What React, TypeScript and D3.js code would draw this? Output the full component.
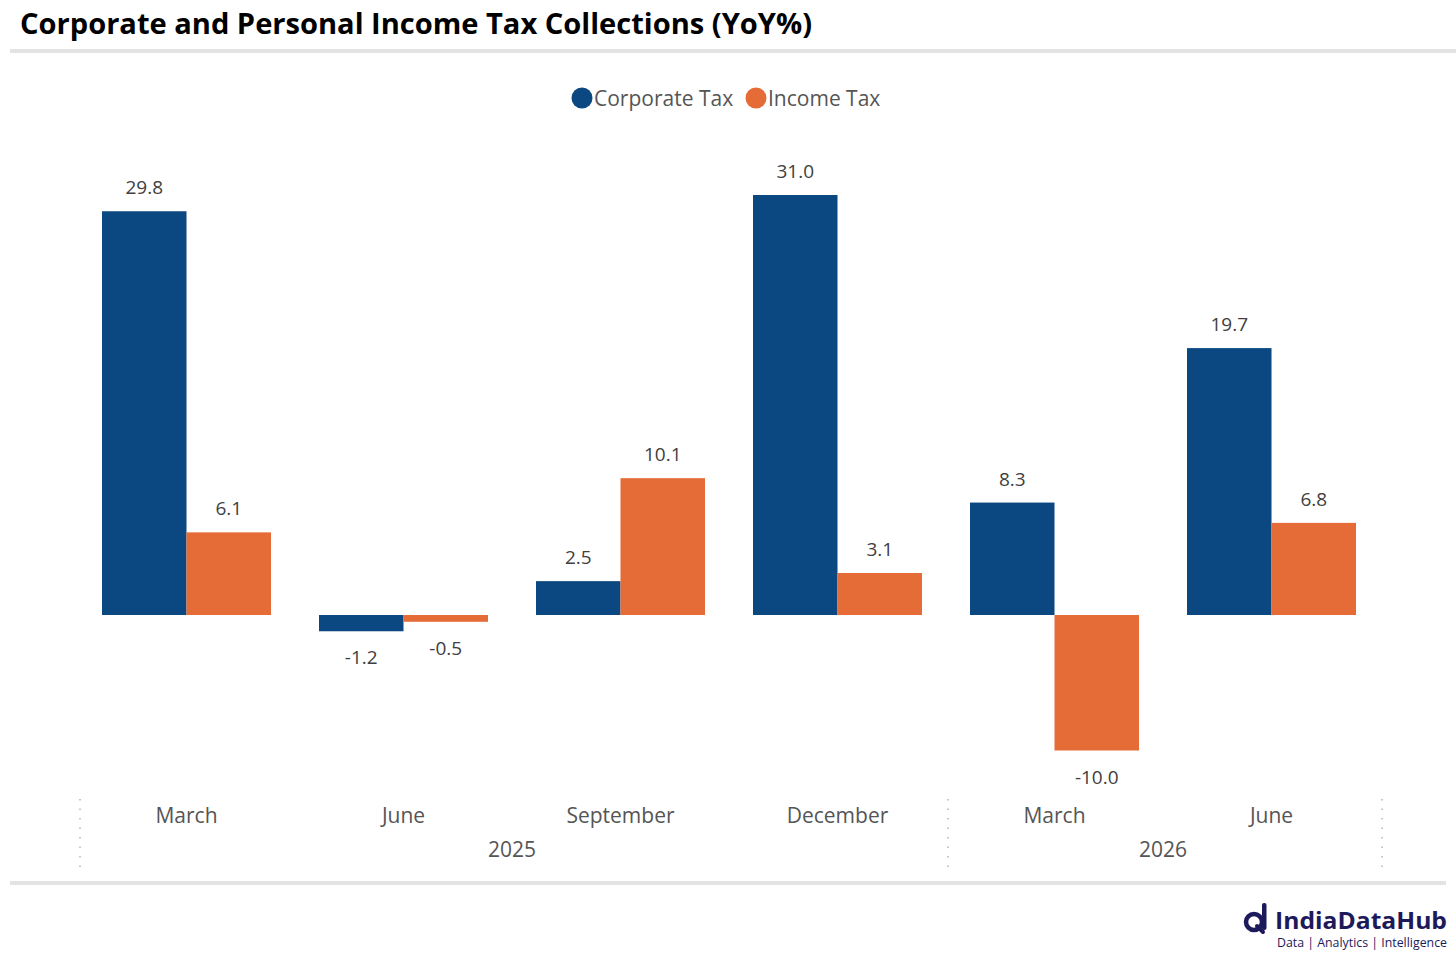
import React from "react";
import * as d3 from "d3";

const categories = ["March", "June", "September", "December", "March", "June"];
const years = [
  { label: "2025", from: 0, to: 4 },
  { label: "2026", from: 4, to: 6 },
];
const seriesNames = ["Corporate Tax", "Income Tax"];
const corporateTax = [29.8, -1.2, 2.5, 31.0, 8.3, 19.7];
const incomeTax = [6.1, -0.5, 10.1, 3.1, -10.0, 6.8];
const colors = ["#0b4781", "#e56c37"];

const W = 1456;
const H = 959;
const FONT = "'Open Sans', 'Noto Sans', sans-serif";

export default function App() {
  const idx = categories.map((_, i) => String(i));
  const x = d3.scaleBand<string>().domain(idx).range([78, 1380]).paddingInner(0).paddingOuter(0);
  const groupW = 169;
  const xs = d3.scaleBand<string>().domain(seriesNames).range([0, groupW]).padding(0);
  const y = d3.scaleLinear().domain([-10, 31]).range([750.5, 195]);
  const y0 = y(0);
  const series = [corporateTax, incomeTax];

  const bars: React.ReactNode[] = [];
  const labels: React.ReactNode[] = [];
  series.forEach((vals, s) => {
    vals.forEach((v, i) => {
      const cx = (x(String(i)) as number) + x.bandwidth() / 2;
      const bx = cx - groupW / 2 + (xs(seriesNames[s]) as number);
      const top = Math.min(y(v), y0);
      const h = Math.abs(y(v) - y0);
      bars.push(
        <rect key={`b${s}-${i}`} x={bx} y={top} width={xs.bandwidth()} height={h} fill={colors[s]} />
      );
      const ly = v >= 0 ? y(v) - 17 : y(v) + 33;
      labels.push(
        <text key={`l${s}-${i}`} x={bx + xs.bandwidth() / 2} y={ly} textAnchor="middle"
          fontFamily={FONT} fontSize={19} fill="#404040">
          {v.toFixed(1)}
        </text>
      );
    });
  });

  const sepX = [x("0") as number, x("4") as number, (x("5") as number) + x.bandwidth()];

  return (
    <svg width={W} height={H} style={{ position: "absolute", left: 0, top: 0, background: "#fff" }}>
      <text x={20} y={34} fontFamily={FONT} fontWeight={700} fontSize={29} fill="#000"
        textLength={792} lengthAdjust="spacingAndGlyphs">
        Corporate and Personal Income Tax Collections (YoY%)
      </text>
      <rect x={10} y={49} width={1446} height={4} fill="#e3e3e3" />

      {/* legend */}
      <circle cx={582} cy={98} r={10.5} fill={colors[0]} />
      <text x={594} y={105.5} fontFamily={FONT} fontSize={21} fill="#555">{seriesNames[0]}</text>
      <circle cx={756} cy={98} r={10.5} fill={colors[1]} />
      <text x={768} y={105.5} fontFamily={FONT} fontSize={21} fill="#555">{seriesNames[1]}</text>

      {bars}
      {labels}

      {categories.map((c, i) => (
        <text key={`c${i}`} x={(x(String(i)) as number) + x.bandwidth() / 2} y={823}
          textAnchor="middle" fontFamily={FONT} fontSize={21} fill="#555">{c}</text>
      ))}
      {years.map((yr) => {
        const a = x(String(yr.from)) as number;
        const b = (x(String(yr.to - 1)) as number) + x.bandwidth();
        return (
          <text key={yr.label} x={(a + b) / 2} y={857} textAnchor="middle"
            fontFamily={FONT} fontSize={21} fill="#555">{yr.label}</text>
        );
      })}
      {sepX.map((sx, i) => (
        <line key={`s${i}`} x1={sx + 2} x2={sx + 2} y1={799} y2={870}
          stroke="#b5b5b5" strokeWidth={1.5} strokeDasharray="1.5 8" />
      ))}

      <rect x={10} y={881} width={1436} height={4} fill="#e3e3e3" />

      {/* logo */}
      <g>
        <circle cx={1254} cy={922} r={8} fill="none" stroke="#1d1a5c" strokeWidth={4.5} />
        <rect x={1262} y={903} width={4.5} height={27} rx={2} fill="#1d1a5c" />
        <line x1={1257} y1={926} x2={1263} y2={932} stroke="#1d1a5c" strokeWidth={4} strokeLinecap="round" />
        <text x={1275} y={929} fontFamily={FONT} fontWeight={700} fontSize={24} fill="#1d1a5c"
          textLength={172} lengthAdjust="spacingAndGlyphs">IndiaDataHub</text>
        <text x={1277} y={947} fontFamily={FONT} fontSize={12} fill="#1d1a5c"
          textLength={170} lengthAdjust="spacingAndGlyphs">Data | Analytics | Intelligence</text>
      </g>
    </svg>
  );
}
